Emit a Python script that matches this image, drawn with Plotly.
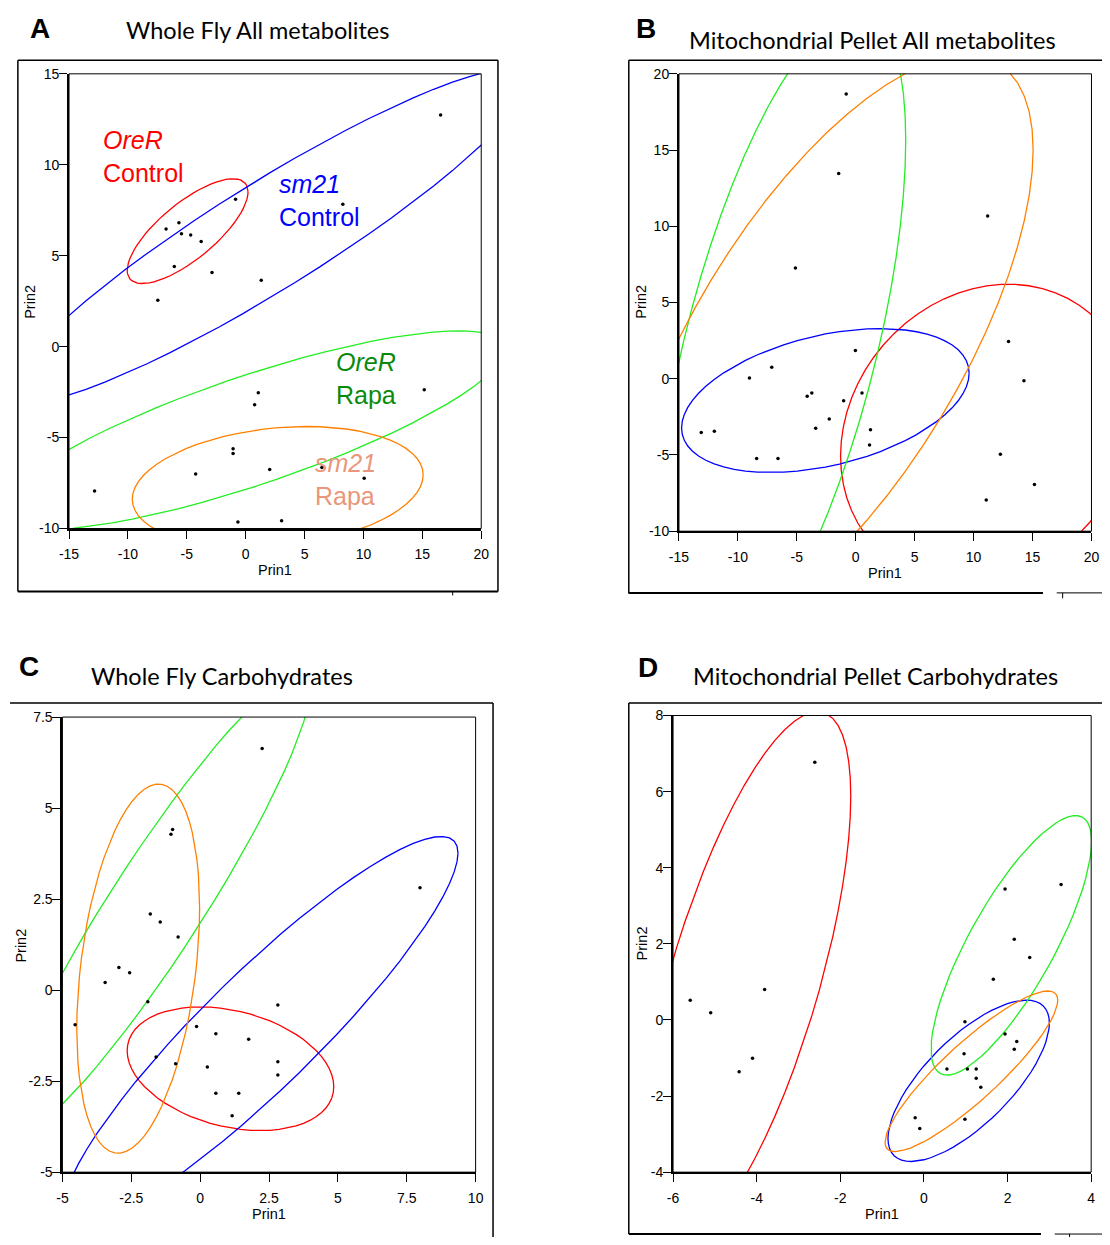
import numpy as np
import plotly.graph_objects as go

W, H = 1110, 1245

# ---------------- DATA ----------------
# Panel A: Whole Fly All metabolites (Prin1, Prin2 scores)
a_x = [-6.76, -5.67, -5.45, -4.67, -3.78, -6.06, -2.86, -0.86, 1.32, 8.25, 16.55, -7.46,
       1.07, 0.76, 15.16, -1.07, -1.07, -4.25, 2.04, 6.47, 10.06, -12.83, -0.66, 3.05]
a_y = [6.47, 6.81, 6.21, 6.14, 5.78, 4.41, 4.08, 8.11, 3.65, 7.83, 12.74, 2.55,
       -2.53, -3.20, -2.37, -5.61, -5.88, -7.00, -6.75, -6.64, -7.23, -7.94, -9.64, -9.57]
# Panel B: Mitochondrial Pellet All metabolites
b_x = [-0.81, -1.45, 11.19, -5.12, -0.03, 12.96, -7.13, -9.02, 14.27, -3.73, -4.12, 0.53,
       -1.03, -2.25, -3.40, 1.25, 1.17, -13.11, -12.00, -8.41, -6.60, 12.27, 15.16, 11.07]
b_y = [18.67, 13.46, 10.67, 7.27, 1.85, 2.45, 0.76, 0.05, -0.14, -0.94, -1.15, -0.94,
       -1.44, -2.64, -3.25, -3.34, -4.35, -3.53, -3.45, -5.23, -5.23, -4.95, -6.94, -7.95]
# Panel C: Whole Fly Carbohydrates
c_x = [2.25, -1.00, -1.06, 7.98, -1.81, -1.45, -0.80, -2.95, -2.56, -3.45, -1.90, 2.82,
       -4.54, -0.13, 0.57, 1.76, -1.60, -0.89, 0.26, 2.82, 2.82, 0.57, 1.40, 1.16]
c_y = [6.64, 4.41, 4.28, 2.81, 2.09, 1.87, 1.46, 0.62, 0.48, 0.21, -0.32, -0.41,
       -0.95, -1.00, -1.20, -1.35, -1.84, -2.02, -2.11, -1.97, -2.33, -2.83, -2.83, -3.45]
# Panel D: Mitochondrial Pellet Carbohydrates
d_x = [-2.61, 1.94, 3.28, 2.16, 2.53, 1.66, -3.81, -5.59, -5.10, 0.98, 1.94, 2.22,
       2.16, 0.96, -4.10, -4.42, 0.55, 1.04, 1.25, 1.25, 1.36, -0.21, -0.10, 0.98]
d_y = [6.77, 3.44, 3.56, 2.12, 1.64, 1.07, 0.80, 0.52, 0.19, -0.05, -0.37, -0.57,
       -0.77, -0.89, -1.01, -1.36, -1.29, -1.29, -1.29, -1.53, -1.77, -2.57, -2.85, -2.61]

# Density ellipse parameters per group: centre x, centre y, x half-extent, y half-extent, correlation
groups = ["OreR Control", "sm21 Control", "OreR Rapa", "sm21 Rapa"]
a_cx = [-4.93, 2.0, 0.5, 2.72]
a_cy = [6.35, 6.1, -4.6, -7.72]
a_rx = [5.13, 22.0, 21.5, 12.35]
a_ry = [2.88, 9.17, 5.47, 3.33]
a_r = [0.75, 0.927, 0.817, 0.2]

b_cx = [11.1, -2.58, -6.4, -2.5]
b_cy = [-3.6, -1.43, 2.0, 2.0]
b_rx = [12.39, 12.2, 10.64, 17.55]
b_ry = [9.8, 4.72, 22.0, 19.2]
b_r = [0.15, 0.38, 0.62, 0.678]

c_cx = [1.1, 2.2, -1.6, -2.25]
c_cy = [-2.16, -1.1, 2.3, 0.59]
c_rx = [3.75, 7.16, 5.6, 2.23]
c_ry = [1.7, 5.32, 6.4, 5.07]
c_r = [-0.29, 0.914, 0.935, 0.33]

d_cx = [-4.3, 1.07, 2.09, 1.135]
d_cy = [1.0, -1.6, 1.96, -1.35]
d_rx = [2.55, 1.93, 1.92, 2.065]
d_ry = [7.1, 2.12, 3.41, 2.11]
d_r = [0.687, 0.715, 0.8, 0.884]

titles = ["Whole Fly All metabolites", "Mitochondrial Pellet All metabolites",
          "Whole Fly Carbohydrates", "Mitochondrial Pellet Carbohydrates"]
letters = ["A", "B", "C", "D"]

a_xticks = [-15, -10, -5, 0, 5, 10, 15, 20]
a_yticks = [-10, -5, 0, 5, 10, 15]
b_xticks = [-15, -10, -5, 0, 5, 10, 15, 20]
b_yticks = [-10, -5, 0, 5, 10, 15, 20]
c_xticks = [-5, -2.5, 0, 2.5, 5, 7.5, 10]
c_yticks = [-5, -2.5, 0, 2.5, 5, 7.5]
d_xticks = [-6, -4, -2, 0, 2, 4]
d_yticks = [-4, -2, 0, 2, 4, 6, 8]

# ---------------- STYLE ----------------
ell_colors = {"OreR Control": "#FF0000", "sm21 Control": "#0000FF",
              "OreR Rapa": "#22EE22", "sm21 Rapa": "#FF8000"}
ARIAL = "Liberation Sans, Arial, sans-serif"
TITLEF = "Lato, Open Sans, sans-serif"


def lab(v):
    return "%g" % v  # hyphen-minus as in the reference


def ellipse(cx, cy, rx, ry, r, n=64):
    t = np.linspace(0, 2 * np.pi, n + 1)
    phi = np.arccos(r)
    return cx + rx * np.cos(t), cy + ry * np.cos(t - phi)


def px(x):
    return x / W


def py(y):
    return 1 - y / H


panels = [
    dict(px_=a_x, py_=a_y, cx=a_cx, cy=a_cy, rx=a_rx, ry=a_ry, r=a_r,
         xr=[-15, 20], yr=[-10, 15], xt=a_xticks, yt=a_yticks,
         box=(60, 479, 66.7, 527.3)),
    dict(px_=b_x, py_=b_y, cx=b_cx, cy=b_cy, rx=b_rx, ry=b_ry, r=b_r,
         xr=[-15, 20], yr=[-10, 20], xt=b_xticks, yt=b_yticks,
         box=(680, 1099.3, 66.7, 530)),
    dict(px_=c_x, py_=c_y, cx=c_cx, cy=c_cy, rx=c_rx, ry=c_ry, r=c_r,
         xr=[-5, 10], yr=[-5, 7.5], xt=c_xticks, yt=c_yticks,
         box=(53.3, 473.3, 718.3, 1179.3)),
    dict(px_=d_x, py_=d_y, cx=d_cx, cy=d_cy, rx=d_rx, ry=d_ry, r=d_r,
         xr=[-6, 4], yr=[-4, 8], xt=d_xticks, yt=d_yticks,
         box=(674, 1099, 716.7, 1179.3)),
]

fig = go.Figure()
layout = dict(width=W, height=H, margin=dict(l=0, r=0, t=0, b=0),
              paper_bgcolor="white", plot_bgcolor="white", showlegend=False)
shapes = []
annotations = []

for i, p in enumerate(panels):
    k = "" if i == 0 else str(i + 1)
    xa, ya = "x" + k, "y" + k
    for g, cx, cy, rx, ry, r in zip(groups, p["cx"], p["cy"], p["rx"], p["ry"], p["r"]):
        ex, ey = ellipse(cx, cy, rx, ry, r)
        fig.add_trace(go.Scatter(x=ex, y=ey, mode="lines", xaxis=xa, yaxis=ya,
                                 line=dict(color=ell_colors[g], width=1.3),
                                 hoverinfo="skip"))
    fig.add_trace(go.Scatter(x=p["px_"], y=p["py_"], mode="markers", xaxis=xa, yaxis=ya,
                             marker=dict(color="black", size=3.5), hoverinfo="skip"))
    x0, x1, y0, y1 = p["box"]
    axfont = dict(family=ARIAL, size=14, color="black")
    layout["xaxis" + k] = dict(domain=[px(x0), px(x1)], anchor=ya, range=p["xr"],
                               tickvals=p["xt"], ticktext=[lab(v) for v in p["xt"]],
                               ticks="outside", ticklen=8, tickwidth=1, tickcolor="black",
                               showline=True, linewidth=2, linecolor="black",
                               showgrid=False, zeroline=False, tickfont=axfont,
                               ticklabelstandoff=4, fixedrange=True)
    layout["yaxis" + k] = dict(domain=[py(y1), py(y0)], anchor=xa, range=p["yr"],
                               tickvals=p["yt"], ticktext=[lab(v) for v in p["yt"]],
                               ticks="outside", ticklen=8, tickwidth=1, tickcolor="black",
                               showline=True, linewidth=2, linecolor="black",
                               showgrid=False, zeroline=False, tickfont=axfont,
                               ticklabelstandoff=-3, fixedrange=True)
    shapes.append(dict(type="rect", xref=xa + " domain", yref=ya + " domain",
                       x0=0, x1=1, y0=0, y1=1, line=dict(color="black", width=1)))
    annotations.append(dict(text="Prin1", xref="paper", yref="paper",
                            x=px((x0 + x1) / 2), y=py(y1 + 42), showarrow=False,
                            font=dict(family=ARIAL, size=14.5, color="black"),
                            xanchor="center", yanchor="middle"))

# Prin2 labels
for xx, yy in [(21, 298), (642, 298), (11, 950), (642, 948)]:
    annotations.append(dict(text="Prin2", xref="paper", yref="paper", x=px(xx), y=py(yy),
                            showarrow=False, textangle=-90,
                            font=dict(family=ARIAL, size=14.5, color="black"),
                            xanchor="center", yanchor="middle"))

# Titles and panel letters
for t, (xx, yy) in zip(titles, [(116, 22), (688, 32), (80, 677), (692, 677)]):
    annotations.append(dict(text=t, xref="paper", yref="paper", x=px(xx), y=py(yy),
                            showarrow=False, xanchor="left", yanchor="middle",
                            font=dict(family=TITLEF, size=23.5, color="black")))
for t, (xx, yy) in zip(letters, [(18, 21), (634, 21), (7, 667), (636, 668)]):
    annotations.append(dict(text="<b>%s</b>" % t, xref="paper", yref="paper", x=px(xx), y=py(yy),
                            showarrow=False, xanchor="left", yanchor="middle",
                            font=dict(family=ARIAL, size=28, color="black")))

# Group labels in panel A
for txt, col, (xx, yy) in [("<i>OreR</i><br>Control", "#FF0000", (92, 150)),
                          ("<i>sm21</i><br>Control", "#0000FF", (271, 195)),
                          ("<i>OreR</i><br>Rapa", "#0A8A0A", (329, 375)),
                          ("<i>sm21</i><br>Rapa", "#E9967A", (308, 478))]:
    annotations.append(dict(text=txt, xref="paper", yref="paper", x=px(xx), y=py(yy),
                            showarrow=False, xanchor="left", yanchor="middle", align="left",
                            font=dict(family=ARIAL, size=25, color=col)))


# Outer panel frames
def seg(xa_, ya_, xb, yb, w=1.5):
    shapes.append(dict(type="line", xref="paper", yref="paper", x0=px(xa_), y0=py(ya_),
                       x1=px(xb), y1=py(yb), line=dict(color="black", width=w)))

# A
seg(8, 53, 496, 53)
seg(8, 53, 8, 591)
seg(496, 53, 496, 591)
seg(8, 591, 496, 591, 2)
seg(450, 591, 450, 595, 1)
# B
seg(629, 53, 1110, 53)
seg(629, 53, 629, 593)
seg(629, 592.5, 1050, 592.5, 2)
seg(1064, 592.5, 1110, 592.5, 1)
seg(1070, 592.5, 1070, 598, 1)
# C
seg(0, 704, 491, 704)
seg(491, 704, 491, 1245)
# D
seg(629, 704, 1110, 704)
seg(629, 704, 629, 1242)
seg(629, 1242, 1048, 1242, 2)
seg(1062, 1242, 1110, 1242, 1)
seg(1077, 1242, 1077, 1245, 1)

layout["shapes"] = shapes
layout["annotations"] = annotations
fig.update_layout(**layout)
fig.write_html("out.html", config={"displayModeBar": False},
               post_script="document.body.style.margin='0';"
                           "document.documentElement.style.overflow='hidden';"
                           "document.body.style.overflow='hidden';")
